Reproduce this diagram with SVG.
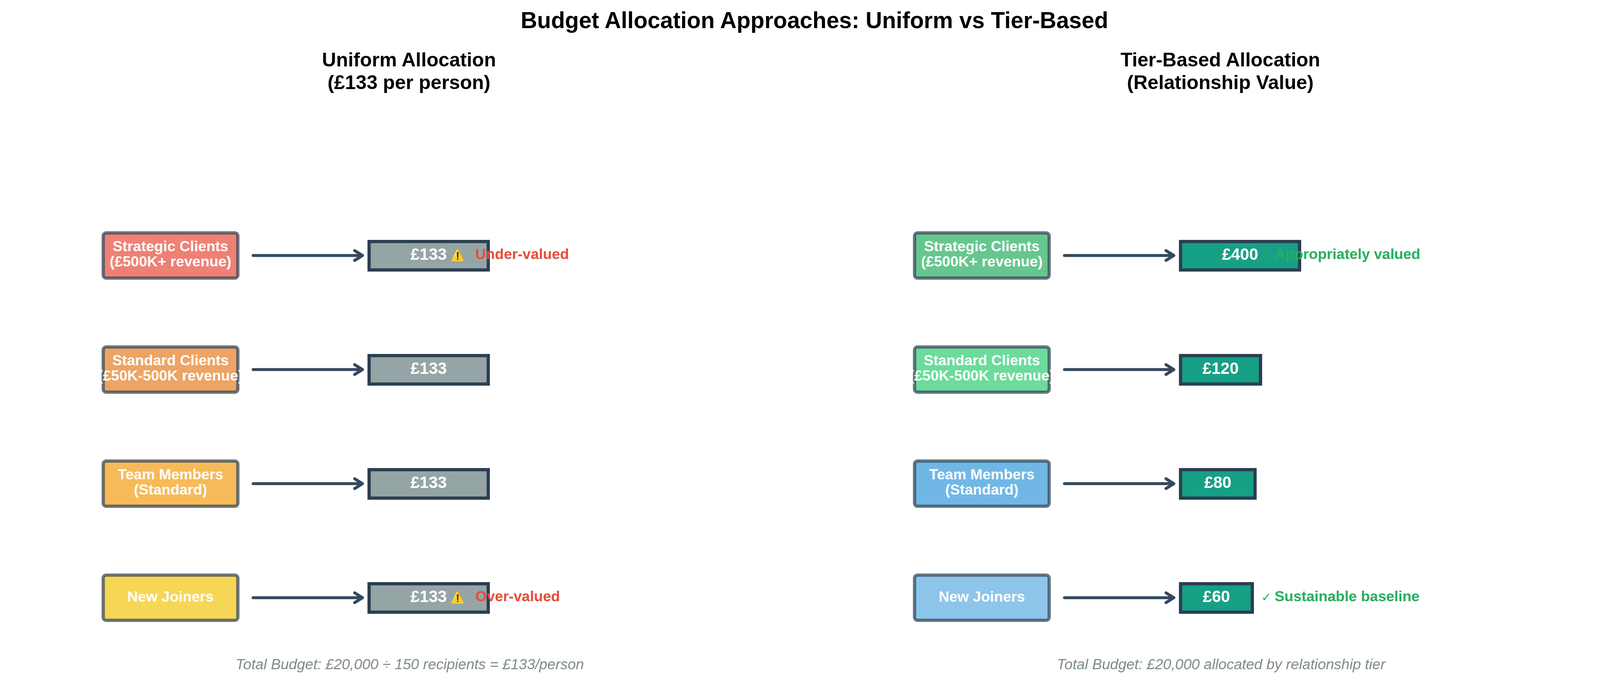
<svg xmlns="http://www.w3.org/2000/svg" width="4170" height="1779" viewBox="0 0 4170 1779">
<style>
text{font-family:"Liberation Sans",Arial,sans-serif}
.title{font-size:58.3px;font-weight:bold;fill:#000;text-anchor:middle}
.sub{font-size:50px;font-weight:bold;fill:#000;text-anchor:middle}
.foot{font-size:37.5px;font-style:italic;fill:#7f8c8d;text-anchor:middle}
.nb{stroke:#2c3e50;stroke-opacity:0.7;stroke-width:8.3;fill-opacity:0.7}
.nt{font-size:37.5px;font-weight:bold;fill:#fff;text-anchor:middle}
.vb{stroke:#2c3e50;stroke-width:8.3}
.grey{fill:#95a5a6}
.teal{fill:#16a085}
.vt{font-size:41.7px;font-weight:bold;fill:#fff;text-anchor:middle}
.ann{font-size:37.5px;font-weight:bold}
.red{fill:#e74c3c}
.green{fill:#27ae60}
.sym{font-family:"DejaVu Sans",sans-serif;font-weight:normal;font-size:30px}
.conn path{fill:none;stroke:#34495e;stroke-width:7.5;stroke-linecap:round;stroke-linejoin:round}
</style>
<rect width="4170" height="1779" fill="#fff"/>
<text class="title" x="2085" y="72">Budget Allocation Approaches: Uniform vs Tier-Based</text>
<text class="sub" x="1047" y="170">Uniform Allocation</text>
<text class="sub" x="1047" y="228">(£133 per person)</text>
<text class="sub" x="3124" y="170">Tier-Based Allocation</text>
<text class="sub" x="3124" y="228">(Relationship Value)</text>

<g id="connectors" class="conn">
<path d="M648,654 H926 M908,641.5 L928,654 L908,666.5"/>
<path d="M648,946 H926 M908,933.5 L928,946 L908,958.5"/>
<path d="M648,1238 H926 M908,1225.5 L928,1238 L908,1250.5"/>
<path d="M648,1530 H926 M908,1517.5 L928,1530 L908,1542.5"/>
<path d="M2725,654 H3003 M2985,641.5 L3005,654 L2985,666.5"/>
<path d="M2725,946 H3003 M2985,933.5 L3005,946 L2985,958.5"/>
<path d="M2725,1238 H3003 M2985,1225.5 L3005,1238 L2985,1250.5"/>
<path d="M2725,1530 H3003 M2985,1517.5 L3005,1530 L2985,1542.5"/>
</g>

<!-- Uniform: source nodes -->
<g id="u-strategic">
<rect class="nb" x="264.2" y="596.2" width="344.7" height="115.7" rx="8" fill="#e74c3c"/>
<text class="nt" x="436.5" y="643">Strategic Clients</text>
<text class="nt" x="436.5" y="682">(£500K+ revenue)</text>
</g>
<g id="u-standard">
<rect class="nb" x="264.2" y="888.2" width="344.7" height="115.7" rx="8" fill="#e67e22"/>
<text class="nt" x="436.5" y="935">Standard Clients</text>
<text class="nt" x="436.5" y="974">(£50K-500K revenue)</text>
</g>
<g id="u-team">
<rect class="nb" x="264.2" y="1180.2" width="344.7" height="115.7" rx="8" fill="#f39c12"/>
<text class="nt" x="436.5" y="1227">Team Members</text>
<text class="nt" x="436.5" y="1266">(Standard)</text>
</g>
<g id="u-new">
<rect class="nb" x="264.2" y="1472.2" width="344.7" height="115.7" rx="8" fill="#f1c40f"/>
<text class="nt" x="436.5" y="1540">New Joiners</text>
</g>

<!-- Uniform: value nodes -->
<g id="u-v1">
<rect class="vb grey" x="944.9" y="618.2" width="305" height="72.8"/>
<text class="vt" x="1097.4" y="665">£133</text>
</g>
<g id="u-v2">
<rect class="vb grey" x="944.9" y="910.2" width="305" height="72.8"/>
<text class="vt" x="1097.4" y="957">£133</text>
</g>
<g id="u-v3">
<rect class="vb grey" x="944.9" y="1202.2" width="305" height="72.8"/>
<text class="vt" x="1097.4" y="1249">£133</text>
</g>
<g id="u-v4">
<rect class="vb grey" x="944.9" y="1494.2" width="305" height="72.8"/>
<text class="vt" x="1097.4" y="1541">£133</text>
</g>
<text class="ann red" x="1153" y="663"><tspan class="sym">⚠️</tspan><tspan x="1217">Under-valued</tspan></text>
<text class="ann red" x="1153" y="1539"><tspan class="sym">⚠️</tspan><tspan x="1217">Over-valued</tspan></text>

<!-- Tier-based: source nodes -->
<g id="t-strategic">
<rect class="nb" x="2341.2" y="596.2" width="344.7" height="115.7" rx="8" fill="#27ae60"/>
<text class="nt" x="2513.5" y="643">Strategic Clients</text>
<text class="nt" x="2513.5" y="682">(£500K+ revenue)</text>
</g>
<g id="t-standard">
<rect class="nb" x="2341.2" y="888.2" width="344.7" height="115.7" rx="8" fill="#2ecc71"/>
<text class="nt" x="2513.5" y="935">Standard Clients</text>
<text class="nt" x="2513.5" y="974">(£50K-500K revenue)</text>
</g>
<g id="t-team">
<rect class="nb" x="2341.2" y="1180.2" width="344.7" height="115.7" rx="8" fill="#3498db"/>
<text class="nt" x="2513.5" y="1227">Team Members</text>
<text class="nt" x="2513.5" y="1266">(Standard)</text>
</g>
<g id="t-new">
<rect class="nb" x="2341.2" y="1472.2" width="344.7" height="115.7" rx="8" fill="#5dade2"/>
<text class="nt" x="2513.5" y="1540">New Joiners</text>
</g>

<!-- Tier-based: value nodes -->
<g id="t-v1">
<rect class="vb teal" x="3022.2" y="618.2" width="304.7" height="72.8"/>
<text class="vt" x="3174.5" y="665">£400</text>
</g>
<g id="t-v2">
<rect class="vb teal" x="3022.2" y="910.2" width="204.7" height="72.8"/>
<text class="vt" x="3124.5" y="957">£120</text>
</g>
<g id="t-v3">
<rect class="vb teal" x="3022.2" y="1202.2" width="190.7" height="72.8"/>
<text class="vt" x="3117.5" y="1249">£80</text>
</g>
<g id="t-v4">
<rect class="vb teal" x="3022.2" y="1494.2" width="183.7" height="72.8"/>
<text class="vt" x="3114" y="1541">£60</text>
</g>
<text class="ann green" x="3229" y="663"><tspan class="sym">✓</tspan><tspan x="3263">Appropriately valued</tspan></text>
<text class="ann green" x="3229" y="1539"><tspan class="sym">✓</tspan><tspan x="3263">Sustainable baseline</tspan></text>

<text class="foot" x="1049" y="1713">Total Budget: £20,000 ÷ 150 recipients = £133/person</text>
<text class="foot" x="3126" y="1713">Total Budget: £20,000 allocated by relationship tier</text>
</svg>
